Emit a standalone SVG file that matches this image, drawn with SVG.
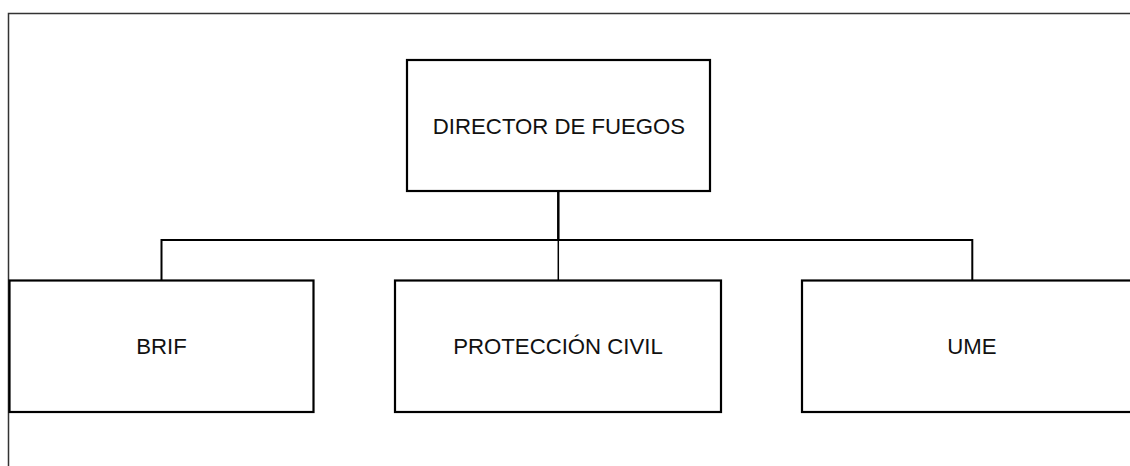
<svg xmlns="http://www.w3.org/2000/svg" width="1130" height="466" viewBox="0 0 1130 466">
<style>
.box{fill:#fff;stroke:#000;stroke-width:2.2}
.lbl{font-family:"Liberation Sans",Arial,sans-serif;font-size:22.2px;fill:#111;text-anchor:middle;dominant-baseline:central}
.frame{fill:none;stroke:#333;stroke-width:1.5}
.con{fill:none;stroke:#000}
</style>
<rect width="1130" height="466" fill="#fff"/>
<path class="frame" d="M8.5,466 V13.5 H1130"/>
<g id="connectors">
<path class="con" stroke-width="2.5" d="M558.3,191 V240"/>
<path class="con" stroke-width="2" d="M161.5,280 V240 H972.3 V280"/>
<path class="con" stroke-width="1.5" d="M558.3,240 V280"/>
</g>
<g id="director">
<rect class="box" x="407" y="60" width="303" height="131"/>
<text class="lbl" x="559" y="126">DIRECTOR DE FUEGOS</text>
</g>
<g id="brif">
<rect class="box" x="9.5" y="280.5" width="304" height="131.5"/>
<text class="lbl" x="161.5" y="346">BRIF</text>
</g>
<g id="proteccion">
<rect class="box" x="395" y="280.5" width="326" height="131.5"/>
<text class="lbl" x="558" y="346">PROTECCIÓN CIVIL</text>
</g>
<g id="ume">
<rect class="box" x="802" y="280.5" width="340" height="131.5"/>
<text class="lbl" x="972" y="346">UME</text>
</g>
</svg>
